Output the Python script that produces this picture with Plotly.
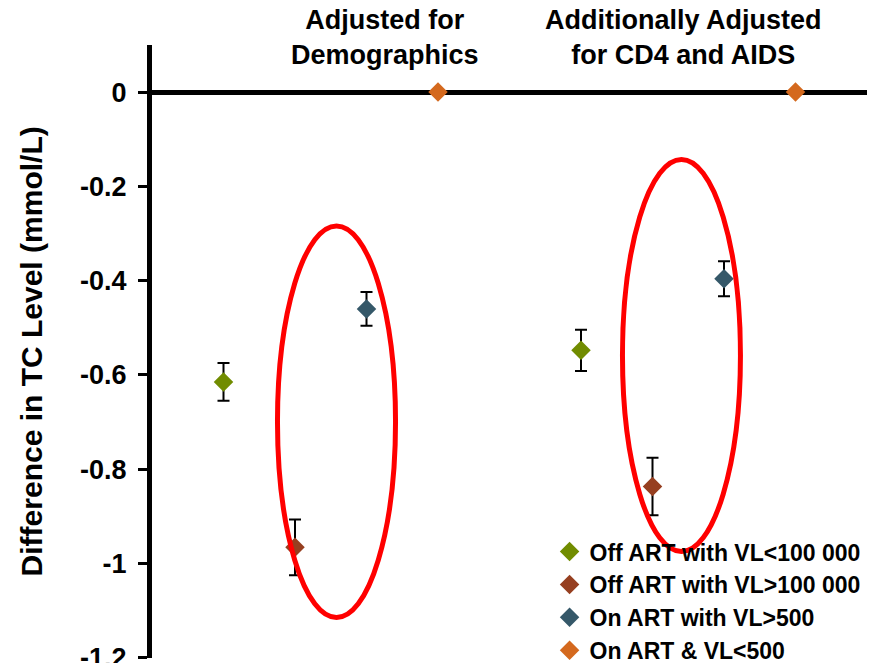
import plotly.graph_objects as go

# ---- data ----
groups = ["Adjusted for<br>Demographics", "Additionally Adjusted<br>for CD4 and AIDS"]
series = ["Off ART with VL<100 000", "Off ART with VL>100 000",
          "On ART with VL>500", "On ART & VL<500"]
colors = ["#718C00", "#963F20", "#355869", "#D4691E"]
demo_vals = [-0.615, -0.966, -0.460, 0.0]
demo_err = [0.040, 0.059, 0.036, None]
cd4_vals = [-0.548, -0.837, -0.396, 0.0]
cd4_err = [0.044, 0.061, 0.037, None]
tick_vals = [0, -0.2, -0.4, -0.6, -0.8, -1.0, -1.2]
tick_text = ["0", "-0.2", "-0.4", "-0.6", "-0.8", "-1", "-1.2"]

FONT = "Liberation Sans, Arial, sans-serif"
n = len(series)
fig = go.Figure()
for i, name in enumerate(series):
    xs = [g * (n + 1) + i + 1 for g in range(len(groups))]
    ys = [demo_vals[i], cd4_vals[i]]
    errs = [demo_err[i], cd4_err[i]]
    has_err = any(e is not None for e in errs)
    fig.add_trace(go.Scatter(
        x=xs, y=ys, mode="markers", name=name,
        marker=dict(symbol="diamond", size=15, color=colors[i]),
        error_y=dict(type="data", array=errs, visible=has_err,
                     color="black", thickness=2, width=6),
    ))

# group headers
header_x = [3.26, 7.44]
for g, label in enumerate(groups):
    fig.add_annotation(x=header_x[g], xref="x",
                       y=1.013, yref="paper", text=label, showarrow=False,
                       font=dict(family=FONT, size=27, color="black", weight="bold"),
                       xanchor="center", yanchor="middle")

# y title
fig.add_annotation(x=-0.168, xref="paper", y=0.5, yref="paper",
                   text="Difference in TC Level (mmol/L)", textangle=-90,
                   showarrow=False, xanchor="center", yanchor="middle",
                   font=dict(family=FONT, size=30, color="black", weight="bold"))

# highlight ellipses
fig.add_shape(type="circle", xref="x", yref="y", x0=1.755, x1=3.406,
              y0=-1.115, y1=-0.284, line=dict(color="#FF0000", width=5), layer="above")
fig.add_shape(type="circle", xref="x", yref="y", x0=6.58, x1=8.23,
              y0=-0.975, y1=-0.143, line=dict(color="#FF0000", width=5), layer="above")

fig.update_layout(
    width=873, height=663,
    margin=dict(l=152, r=6, t=45, b=5, autoexpand=False),
    paper_bgcolor="white", plot_bgcolor="white",
    showlegend=True,
    legend=dict(x=0.556, y=-0.023, xanchor="left", yanchor="bottom",
                bgcolor="rgba(0,0,0,0)",
                font=dict(family=FONT, size=23, color="black", weight="bold"),
                itemwidth=30, tracegroupgap=0),
    xaxis=dict(range=[0, 10], visible=False, showgrid=False, zeroline=False),
    yaxis=dict(range=[-1.2008, 0.1], tickvals=tick_vals, ticktext=tick_text,
               showgrid=False, zeroline=True, zerolinecolor="black", zerolinewidth=5,
               showline=True, linecolor="black", linewidth=5,
               ticks="outside", ticklen=9, tickwidth=3, tickcolor="black",
               ticklabelstandoff=6, ticklabeloverflow="allow",
               tickfont=dict(family=FONT, size=27, color="black", weight="bold")),
)

fig.write_html("out.html")
